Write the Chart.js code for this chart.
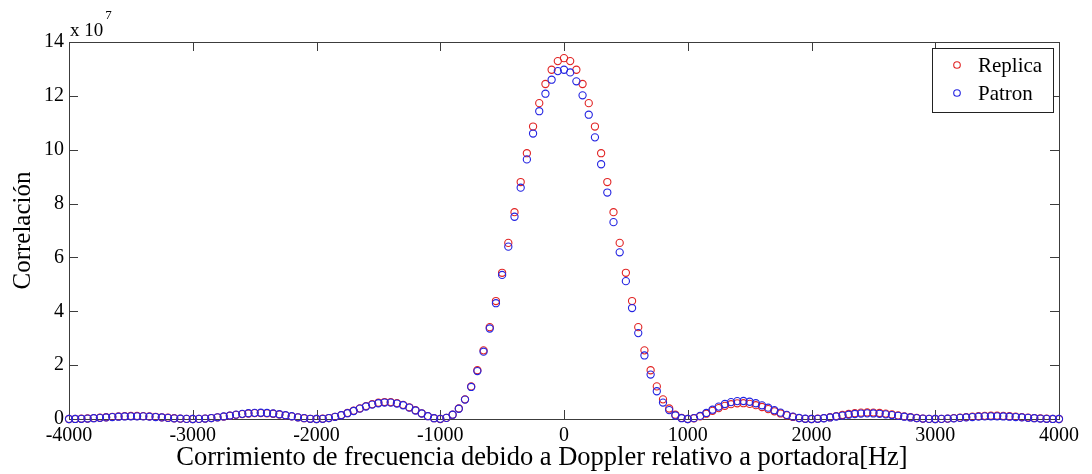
<!DOCTYPE html>
<html>
<head>
<meta charset="utf-8">
<script src="https://cdn.jsdelivr.net/npm/chart.js@4.4.0/dist/chart.umd.min.js"></script>
<style>
html,body{margin:0;padding:0;background:#fff;}
#wrap{width:1092px;height:474px;position:relative;}
</style>
</head>
<body>
<div id="wrap"><canvas id="c" width="1092" height="474"></canvas></div>
<script>
// Frequency offsets (Hz)
const frequencies = [
-4000,-3950,-3900,-3850,-3800,-3750,-3700,-3650,-3600,-3550,-3500,-3450,-3400,-3350,-3300,-3250,-3200,-3150,-3100,-3050,
-3000,-2950,-2900,-2850,-2800,-2750,-2700,-2650,-2600,-2550,-2500,-2450,-2400,-2350,-2300,-2250,-2200,-2150,-2100,-2050,
-2000,-1950,-1900,-1850,-1800,-1750,-1700,-1650,-1600,-1550,-1500,-1450,-1400,-1350,-1300,-1250,-1200,-1150,-1100,-1050,
-1000,-950,-900,-850,-800,-750,-700,-650,-600,-550,-500,-450,-400,-350,-300,-250,-200,-150,-100,-50,
0,50,100,150,200,250,300,350,400,450,500,550,600,650,700,750,800,850,900,950,
1000,1050,1100,1150,1200,1250,1300,1350,1400,1450,1500,1550,1600,1650,1700,1750,1800,1850,1900,1950,
2000,2050,2100,2150,2200,2250,2300,2350,2400,2450,2500,2550,2600,2650,2700,2750,2800,2850,2900,2950,
3000,3050,3100,3150,3200,3250,3300,3350,3400,3450,3500,3550,3600,3650,3700,3750,3800,3850,3900,3950,
4000
];
// Correlation values, in units of 10^7
const replica = [
0,0.002,0.009,0.019,0.033,0.048,0.065,0.081,0.095,0.105,0.111,0.111,0.106,0.096,0.082,0.064,0.046,0.028,0.014,0.004,
0,0.004,0.015,0.035,0.060,0.090,0.122,0.154,0.182,0.204,0.217,0.221,0.213,0.195,0.168,0.134,0.097,0.061,0.029,0.008,
0,0.009,0.036,0.082,0.145,0.222,0.308,0.396,0.480,0.551,0.603,0.630,0.627,0.591,0.526,0.435,0.326,0.212,0.107,0.030,
0.00,0.04,0.16,0.39,0.73,1.21,1.81,2.55,3.41,4.38,5.43,6.54,7.68,8.80,9.87,10.86,11.73,12.44,12.97,13.29,
13.40,13.29,12.97,12.44,11.73,10.86,9.87,8.80,7.68,6.54,5.43,4.38,3.41,2.55,1.81,1.21,0.73,0.39,0.16,0.04,
0.00,0.028,0.100,0.197,0.303,0.404,0.489,0.550,0.583,0.586,0.561,0.513,0.446,0.368,0.286,0.206,0.135,0.076,0.033,0.008,
0,0.009,0.032,0.067,0.107,0.148,0.185,0.215,0.235,0.243,0.239,0.224,0.200,0.169,0.134,0.099,0.066,0.038,0.017,0.004,
0,0.004,0.015,0.031,0.050,0.071,0.090,0.106,0.117,0.122,0.122,0.116,0.104,0.089,0.071,0.053,0.036,0.021,0.009,0.002,
0
];
const patron = [
0,0.002,0.008,0.017,0.029,0.043,0.058,0.073,0.085,0.095,0.100,0.100,0.096,0.086,0.073,0.058,0.041,0.025,0.012,0.003,
0,0.004,0.016,0.036,0.063,0.094,0.128,0.161,0.191,0.214,0.228,0.232,0.224,0.205,0.176,0.141,0.102,0.064,0.031,0.008,
0,0.008,0.035,0.079,0.140,0.215,0.298,0.384,0.465,0.535,0.585,0.611,0.608,0.574,0.510,0.421,0.316,0.205,0.104,0.029,
0.005,0.04,0.16,0.38,0.72,1.19,1.78,2.50,3.36,4.30,5.35,6.40,7.51,8.59,9.64,10.60,11.43,12.08,12.60,12.92,
12.97,12.87,12.54,12.02,11.30,10.46,9.46,8.41,7.31,6.19,5.12,4.12,3.19,2.36,1.65,1.03,0.61,0.33,0.13,0.03,
0.00,0.032,0.114,0.224,0.345,0.461,0.557,0.627,0.664,0.668,0.640,0.584,0.508,0.420,0.326,0.235,0.153,0.087,0.038,0.009,
0,0.008,0.028,0.057,0.092,0.127,0.160,0.185,0.203,0.210,0.206,0.194,0.173,0.146,0.116,0.085,0.057,0.033,0.015,0.004,
0,0.003,0.012,0.025,0.041,0.058,0.073,0.086,0.096,0.100,0.100,0.095,0.085,0.073,0.058,0.043,0.029,0.017,0.008,0.002,
0
];
const xTicks = [-4000,-3000,-2000,-1000,0,1000,2000,3000,4000];
const yTicks = [0,2,4,6,8,10,12,14];
const seriesNames = ['Replica','Patron'];
const xTitle = 'Corrimiento de frecuencia debido a Doppler relativo a portadora[Hz]';
const yTitle = 'Correlación';
const exponentText = ['x 10','7'];

const FONT = "'Liberation Serif', 'Times New Roman', serif";
const RED = 'rgb(225,35,35)';
const BLUE = 'rgb(35,35,225)';
const AXIS = '#3c3c3c';

const framePlugin = {
  id: 'frame',
  beforeDatasetsDraw(chart) {
    const {ctx, chartArea: a, scales: {x, y}} = chart;
    ctx.save();
    ctx.strokeStyle = AXIS;
    ctx.lineWidth = 1;
    ctx.strokeRect(Math.round(a.left) + 0.5, Math.round(a.top) + 0.5,
                   Math.round(a.right - a.left), Math.round(a.bottom - a.top));
    const L = 9;
    ctx.beginPath();
    xTicks.forEach(v => {
      const px = Math.round(x.getPixelForValue(v)) + 0.5;
      ctx.moveTo(px, a.bottom); ctx.lineTo(px, a.bottom - L);
      ctx.moveTo(px, a.top); ctx.lineTo(px, a.top + L);
    });
    yTicks.forEach(v => {
      const py = Math.round(y.getPixelForValue(v)) + 0.5;
      ctx.moveTo(a.left, py); ctx.lineTo(a.left + L, py);
      ctx.moveTo(a.right, py); ctx.lineTo(a.right - L, py);
    });
    ctx.stroke();
    ctx.restore();
  },
  afterDraw(chart) {
    const {ctx, chartArea: a} = chart;
    ctx.save();
    // x axis title (slightly left of the axes centre, as in the original figure)
    ctx.fillStyle = '#000';
    ctx.font = "26.5px " + FONT;
    ctx.textAlign = 'center';
    ctx.textBaseline = 'middle';
    ctx.fillText(xTitle, 542, 458);
    // exponent label
    ctx.textBaseline = 'alphabetic';
    ctx.textAlign = 'left';
    ctx.font = "19px " + FONT;
    ctx.fillText(exponentText[0], a.left + 1, a.top - 6);
    const w = ctx.measureText(exponentText[0]).width;
    ctx.font = "13px " + FONT;
    ctx.fillText(exponentText[1], a.left + 1 + w + 2, a.top - 23);
    // legend
    const bx = 932, by = 48, bw = 121, bh = 64;
    ctx.fillStyle = '#fff';
    ctx.fillRect(bx, by, bw, bh);
    ctx.strokeStyle = '#222';
    ctx.lineWidth = 1;
    ctx.strokeRect(bx + 0.5, by + 0.5, bw, bh);
    chart.data.datasets.forEach((ds, i) => {
      const cy = by + 17 + i * 28;
      ctx.beginPath();
      ctx.arc(bx + 25, cy, 3.3, 0, Math.PI * 2);
      ctx.strokeStyle = ds.borderColor;
      ctx.lineWidth = 1.1;
      ctx.stroke();
      ctx.fillStyle = '#000';
      ctx.font = "21px " + FONT;
      ctx.textBaseline = 'middle';
      ctx.fillText(ds.label, bx + 46, cy + 1);
    });
    ctx.restore();
  }
};

const mk = (vals) => frequencies.map((f, i) => ({x: f, y: vals[i]}));

new Chart(document.getElementById('c'), {
  type: 'scatter',
  data: {
    datasets: [
      {label: seriesNames[0], data: mk(replica), borderColor: RED, backgroundColor: 'rgba(0,0,0,0)',
       pointRadius: 3.6, pointBorderWidth: 1.1, showLine: false, clip: false, order: 2},
      {label: seriesNames[1], data: mk(patron), borderColor: BLUE, backgroundColor: 'rgba(0,0,0,0)',
       pointRadius: 3.6, pointBorderWidth: 1.1, showLine: false, clip: false, order: 1}
    ]
  },
  options: {
    responsive: false,
    animation: false,
    devicePixelRatio: 1,
    layout: {padding: {top: 42, right: 33, left: 0, bottom: 0}},
    plugins: {legend: {display: false}, tooltip: {enabled: false}},
    scales: {
      x: {
        type: 'linear', min: -4000, max: 4000,
        afterBuildTicks: s => { s.ticks = xTicks.map(v => ({value: v})); },
        afterFit: s => { s.height = 55; },
        grid: {display: false, drawTicks: false},
        border: {display: false},
        ticks: {callback: v => String(v), color: '#000', font: {family: FONT, size: 20}, padding: 5, maxRotation: 0, autoSkip: false},
        title: {display: false}
      },
      y: {
        type: 'linear', min: 0, max: 14,
        afterBuildTicks: s => { s.ticks = yTicks.map(v => ({value: v})); },
        afterFit: s => { s.width = 69; },
        grid: {display: false, drawTicks: false},
        border: {display: false},
        ticks: {callback: v => String(v), color: '#000', font: {family: FONT, size: 20}, padding: 5},
        title: {display: true, text: yTitle, color: '#000', font: {family: FONT, size: 25}, padding: {top: 8, bottom: 0}}
      }
    }
  },
  plugins: [framePlugin]
});
</script>
</body>
</html>
